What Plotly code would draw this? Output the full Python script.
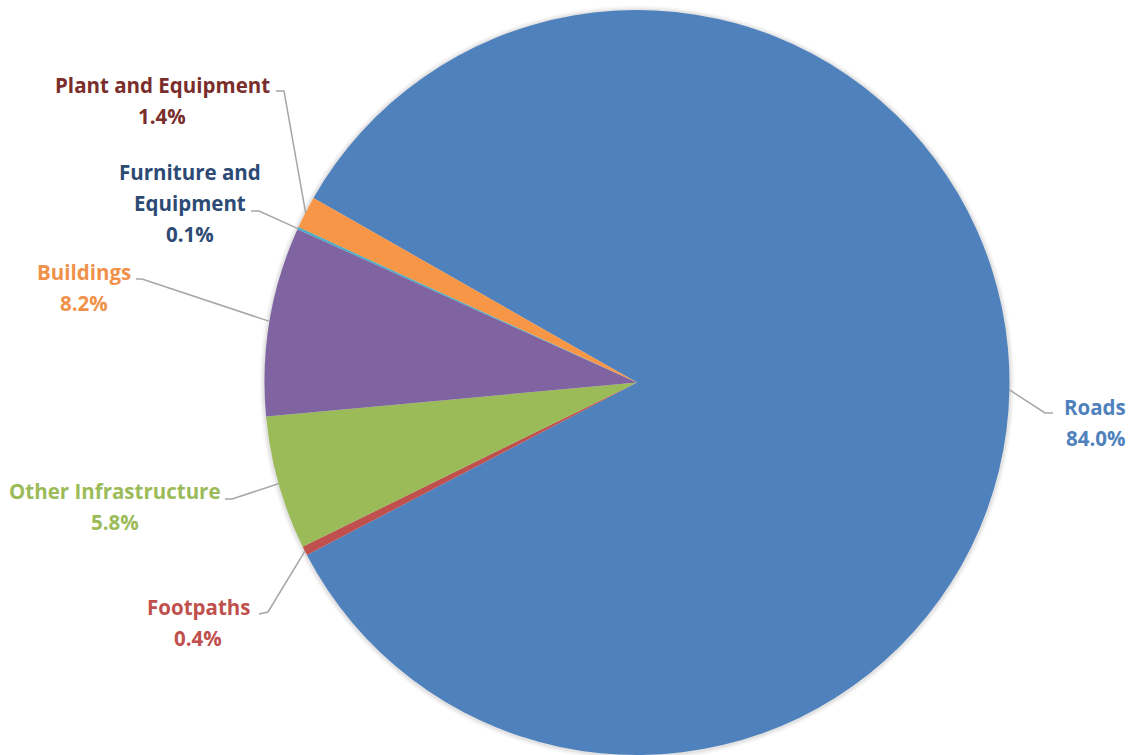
import math
import plotly.graph_objects as go

# ---- data ----
labels = ["Roads", "Footpaths", "Other Infrastructure", "Buildings",
          "Furniture and Equipment", "Plant and Equipment"]
values = [84.0, 0.4, 5.8, 8.2, 0.1, 1.4]
label_text = [["Roads"], ["Footpaths"], ["Other Infrastructure"], ["Buildings"],
              ["Furniture and", "Equipment"], ["Plant and Equipment"]]

# ---- styles ----
slice_colors = ["#4F81BD", "#C0504D", "#9BBB59", "#8064A2", "#4BACC6", "#F79646"]
text_colors = ["#4F81BD", "#C0504D", "#9BBB59", "#F0914A", "#2C4A74", "#7A2E2C"]
W, H = 1131, 755
MT = 10
PH = H - MT
CX, CY, R = 637, 383, 372.5
ROT = -60.3
FONT = "Open Sans"
FS = 20.5
LINE_H = 31
# label layout: (center x, first line y, text end point, elbow point)
label_pos = [
    (1095, 407, (1053, 413), (1045, 413)),
    (198, 607, (259, 614), (268, 612)),
    (115, 491, (225, 499), (232, 499)),
    (84, 272, (136, 279), (142, 279)),
    (190, 172, (251, 211), (259, 211)),
    (162, 85, (276, 91), (284, 91)),
]


def px(x):
    return x / W


def py(y):
    return 1 - (y - MT) / PH


fig = go.Figure(go.Pie(
    labels=labels, values=values, sort=False, direction="clockwise",
    rotation=ROT, textinfo="none", hoverinfo="label+percent",
    marker=dict(colors=slice_colors, line=dict(width=0)),
    domain=dict(x=[(CX - 400) / W, (CX + 400) / W], y=[0, 1]),
    showlegend=False,
))

total = sum(values)
annotations, shapes = [], []

# soft shadow glow behind the pie
for dr, a in [(5, 0.025), (3.5, 0.035), (2, 0.05)]:
    rr = R + dr
    shapes.append(dict(type="circle", xref="paper", yref="paper", layer="below",
                       x0=px(CX - rr), x1=px(CX + rr), y0=py(CY + rr), y1=py(CY - rr),
                       fillcolor=f"rgba(0,0,0,{a})", line=dict(width=0)))

start = ROT
for i, v in enumerate(values):
    span = v / total * 360
    mid = math.radians(start + span / 2)
    start += span
    ex = CX + R * math.sin(mid)
    ey = CY - R * math.cos(mid)
    cx, y0, tp, el = label_pos[i]
    lines = label_text[i] + [f"{v:.1f}%"]
    for k, t in enumerate(lines):
        annotations.append(dict(
            x=px(cx), y=py(y0 + k * LINE_H), xref="paper", yref="paper",
            text=f"<b>{t}</b>", showarrow=False, xanchor="center", yanchor="middle",
            font=dict(family=FONT, size=FS, color=text_colors[i])))
    path = (f"M {px(tp[0])} {py(tp[1])} L {px(el[0])} {py(el[1])} "
            f"L {px(ex)} {py(ey)}")
    shapes.append(dict(type="path", path=path, xref="paper", yref="paper",
                       line=dict(color="#A6A6A6", width=1.5)))

fig.update_layout(
    width=W, height=H, margin=dict(l=0, r=0, t=MT, b=0),
    paper_bgcolor="white", plot_bgcolor="white",
    annotations=annotations, shapes=shapes,
)
fig.write_html("out.html")
